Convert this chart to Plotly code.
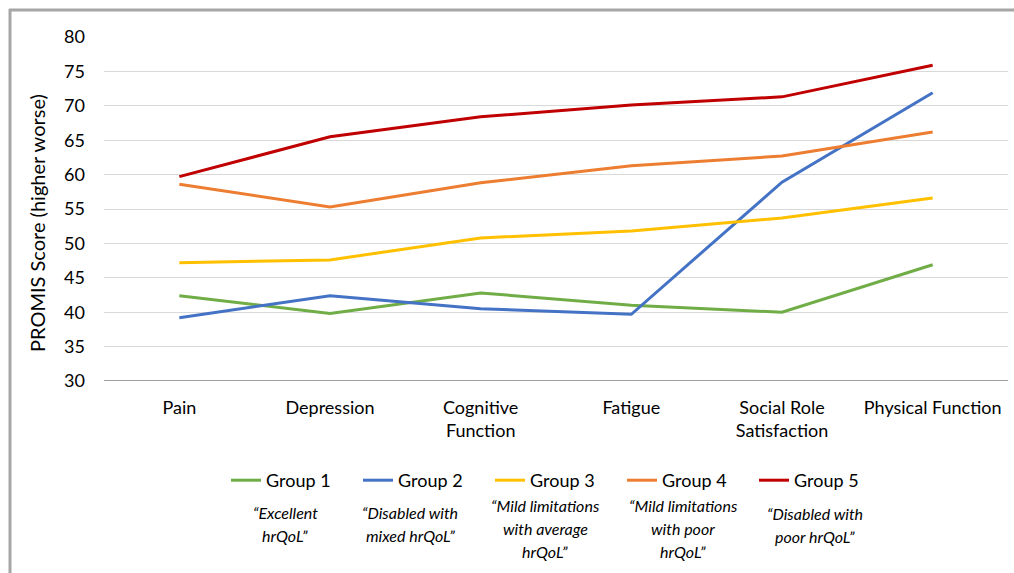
import plotly.graph_objects as go

categories = ["Pain", "Depression", "Cognitive<br>Function", "Fatigue", "Social Role<br>Satisfaction", "Physical Function"]
group1 = [42.4, 39.8, 42.8, 41.0, 40.0, 46.9]
group2 = [39.2, 42.4, 40.5, 39.7, 58.9, 71.9]
group3 = [47.2, 47.6, 50.8, 51.8, 53.7, 56.6]
group4 = [58.6, 55.3, 58.8, 61.3, 62.7, 66.2]
group5 = [59.7, 65.5, 68.4, 70.1, 71.3, 75.9]
names = ["Group 1", "Group 2", "Group 3", "Group 4", "Group 5"]
colors = ["#70AD47", "#4472C4", "#FFC000", "#ED7D31", "#C00000"]
descriptions = [["\u201cExcellent", "hrQoL\u201d"],
                ["\u201cDisabled with", "mixed hrQoL\u201d"],
                ["\u201cMild limitations", "with average", "hrQoL\u201d"],
                ["\u201cMild limitations", "with poor", "hrQoL\u201d"],
                ["\u201cDisabled with", "poor hrQoL\u201d"]]
yticks = [30, 35, 40, 45, 50, 55, 60, 65, 70, 75, 80]
ytitle = "PROMIS Score (higher worse)"

FONT = "Lato"
W, H = 1014, 573
L, R, T, B = 104, 6, 37, 192
pw, ph = W - L - R, H - T - B

def px(x):
    return (x - L) / pw

def py(y):
    return (H - B - y) / ph

fig = go.Figure()
for name, vals, col in zip(names, [group1, group2, group3, group4, group5], colors):
    fig.add_trace(go.Scatter(x=categories, y=vals, mode="lines", name=name,
                             line=dict(color=col, width=3)))

desc_x = [285, 410, 545, 683, 815]
desc_y0 = [512, 512, 505, 505, 513]
line_gap = 23
annotations = []
for dx, dy, lines in zip(desc_x, desc_y0, descriptions):
    for i, txt in enumerate(lines):
        annotations.append(dict(x=px(dx), y=py(dy + i * line_gap), xref="paper", yref="paper",
                                text="<i>" + txt + "</i>", showarrow=False,
                                xanchor="center", yanchor="middle", align="center",
                                font=dict(family=FONT, size=16, color="#000000")))

annotations.append(dict(x=px(37), y=py(223), xref="paper", yref="paper", text=ytitle,
                        showarrow=False, textangle=-90, xanchor="center", yanchor="middle",
                        font=dict(family=FONT, size=20, color="#000000")))

shapes = [
    dict(type="line", xref="paper", yref="paper", x0=px(10), x1=px(10), y0=py(9), y1=py(580),
         line=dict(color="#A6A6A6", width=3)),
    dict(type="line", xref="paper", yref="paper", x0=px(9), x1=px(1020), y0=py(10), y1=py(10),
         line=dict(color="#A6A6A6", width=3)),
]

fig.update_layout(
    width=W, height=H,
    margin=dict(l=L, r=R, t=T, b=B, autoexpand=False),
    paper_bgcolor="white", plot_bgcolor="white",
    font=dict(family=FONT, size=18, color="#000000"),
    showlegend=True,
    legend=dict(orientation="h", x=px(226), y=py(462), xanchor="left", yanchor="top",
                entrywidth=87, entrywidthmode="pixels", font=dict(family=FONT, size=18),
                bgcolor="rgba(0,0,0,0)", itemwidth=30, tracegroupgap=0),
    xaxis=dict(type="category", range=[-0.5, 5.5], showgrid=False, showline=False, ticks="",
               zeroline=False, automargin=False,
               tickfont=dict(family=FONT, size=18), ticklabelstandoff=14),
    yaxis=dict(range=[30, 80], tickvals=yticks, showgrid=True, gridcolor="#D9D9D9",
               gridwidth=1, zeroline=False, showline=False, ticks="", automargin=False,
               tickfont=dict(family=FONT, size=18), ticklabelstandoff=18),
    annotations=annotations,
    shapes=shapes,
)
fig.add_hline(y=30, line=dict(color="#808080", width=1.5))

fig.write_html("out.html")
